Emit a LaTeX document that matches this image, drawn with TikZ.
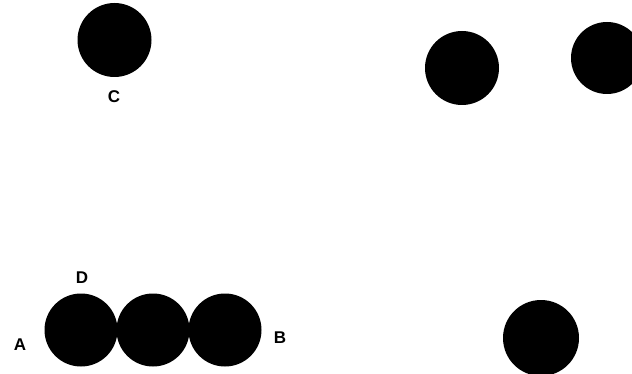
\documentclass[tikz,border=0pt]{standalone}
\usepackage{fontspec}
\setmainfont{Liberation Sans}
\begin{document}
\begin{tikzpicture}[x=1pt,y=-1pt,
  dot/.style={circle,fill=black,draw=none,minimum size=74pt,inner sep=0pt},
  lbl/.style={font=\bfseries\fontsize{17}{19}\selectfont,inner sep=0pt}]
\useasboundingbox (0,0) rectangle (632,374);
\clip (0,0) rectangle (632,374);
\node[dot] (c) at (114.5,40) {};
\node[lbl] (lc) at (114,97) {C};
\node[dot] (r1) at (462,68) {};
\node[dot,minimum size=72pt] (r2) at (607,58) {};
\node[dot,minimum size=73pt] (a1) at (81,330) {};
\node[dot,minimum size=73pt] (a2) at (153,330) {};
\node[dot,minimum size=73pt] (a3) at (225,330) {};
\node[lbl] (la) at (20,345) {A};
\node[lbl] (ld) at (82,278) {D};
\node[lbl] (lb) at (280,338) {B};
\node[dot,minimum size=76pt] (br) at (541,338) {};
\end{tikzpicture}
\end{document}
